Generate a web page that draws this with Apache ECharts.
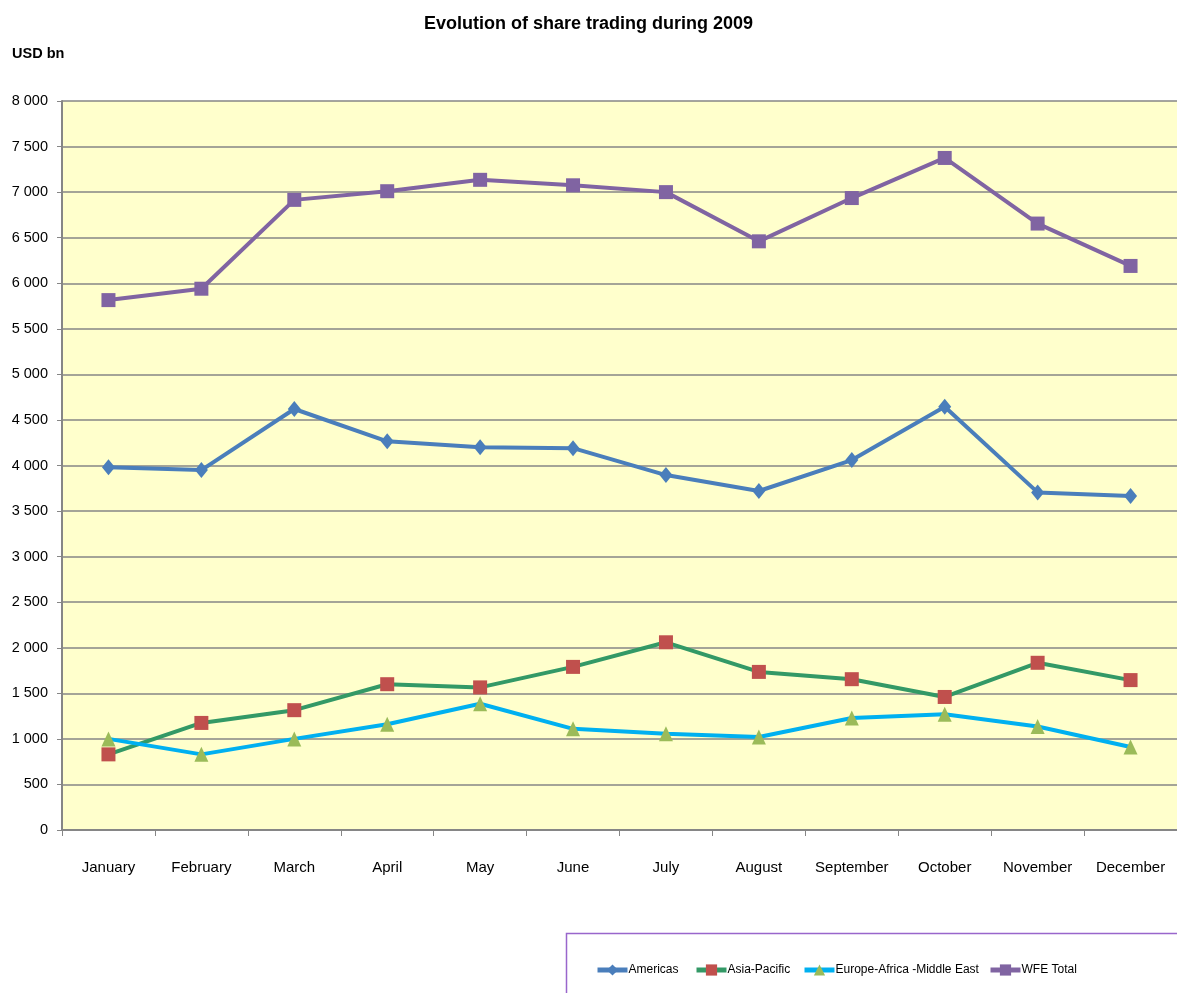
<!DOCTYPE html>
<html><head><meta charset="utf-8">
<script src="https://cdn.jsdelivr.net/npm/echarts@6/dist/echarts.min.js"></script>
<style>html,body{margin:0;padding:0;background:#fff}#c{width:1177px;height:993px}</style>
</head><body><div id="c"></div>
<script>
var months = ['January','February','March','April','May','June','July','August','September','October','November','December'];
var americas = [3980,3950,4620,4265,4200,4190,3895,3720,4060,4645,3705,3665];
var asiaPacific = [830,1175,1315,1600,1565,1790,2060,1735,1655,1460,1835,1645];
var europe = [1000,830,1000,1160,1385,1110,1055,1020,1230,1270,1135,910];
var wfeTotal = [5815,5940,6915,7010,7135,7075,7000,6460,6935,7375,6655,6190];
var seriesNames = ['Americas','Asia-Pacific','Europe-Africa -Middle East','WFE Total'];

var FONT = "'Liberation Sans Narrow','Arial Narrow','Liberation Sans',sans-serif";
var chart = echarts.init(document.getElementById('c'));
function fmt(v){ var s = String(v); return s.length > 3 ? s.slice(0, s.length-3) + ' ' + s.slice(-3) : s; }
var legendLefts = [590, 689, 797, 983];
var legends = seriesNames.map(function(n, i){
  return {top: 959, left: legendLefts[i], itemWidth: 30, itemHeight: 14, itemGap: 0,
    lineStyle: {width: 5},
    textStyle: {fontFamily: FONT, fontSize: 12, color: '#000', padding: [0,0,0,-4]}, data: [n]};
});
chart.setOption({
  animation: false,
  title: {
    text: 'Evolution of share trading during 2009',
    left: 'center', top: 10,
    textStyle: {fontFamily: FONT, fontSize: 18, fontWeight: 'bold', color: '#000'}
  },
  graphic: [
    {type: 'text', left: 12, top: 46, style: {text: 'USD bn', font: "bold 14.5px " + FONT, fill: '#000'}},
    {type: 'rect', shape: {x: 566.5, y: 933.5, width: 612, height: 70}, style: {fill: 'none', stroke: '#9966CC', lineWidth: 1.5}}
  ],
  grid: {left: 62, top: 101, right: -1, bottom: 163, show: true, backgroundColor: '#FFFFCC', borderWidth: 0},
  legend: legends,
  xAxis: {
    type: 'category', data: months, boundaryGap: true,
    axisLine: {lineStyle: {color: '#868686', width: 2}},
    axisTick: {show: true, length: 6, lineStyle: {color: '#868686', width: 1}},
    axisLabel: {fontFamily: FONT, fontSize: 15, color: '#000', margin: 30, interval: 0}
  },
  yAxis: {
    type: 'value', min: 0, max: 8000, interval: 500,
    axisLine: {show: true, lineStyle: {color: '#868686', width: 2}},
    axisTick: {show: true, length: 5, lineStyle: {color: '#868686'}},
    splitLine: {lineStyle: {color: '#868686', width: 1.5}},
    axisLabel: {fontFamily: FONT, fontSize: 14.5, color: '#000', margin: 14, formatter: fmt}
  },
  series: [
    {name: seriesNames[0], type: 'line', data: americas, symbol: 'diamond', symbolSize: [13,16],
      lineStyle: {color: '#4A7EBB', width: 4}, itemStyle: {color: '#4A7EBB'}},
    {name: seriesNames[1], type: 'line', data: asiaPacific, symbol: 'rect', symbolSize: 14,
      lineStyle: {color: '#339966', width: 4}, itemStyle: {color: '#C0504D'}},
    {name: seriesNames[2], type: 'line', data: europe, symbol: 'triangle', symbolSize: [14,15],
      lineStyle: {color: '#00B0F0', width: 4}, itemStyle: {color: '#9BBB59'}},
    {name: seriesNames[3], type: 'line', data: wfeTotal, symbol: 'rect', symbolSize: 14,
      lineStyle: {color: '#8064A2', width: 4}, itemStyle: {color: '#8064A2'}}
  ]
});
</script></body></html>
